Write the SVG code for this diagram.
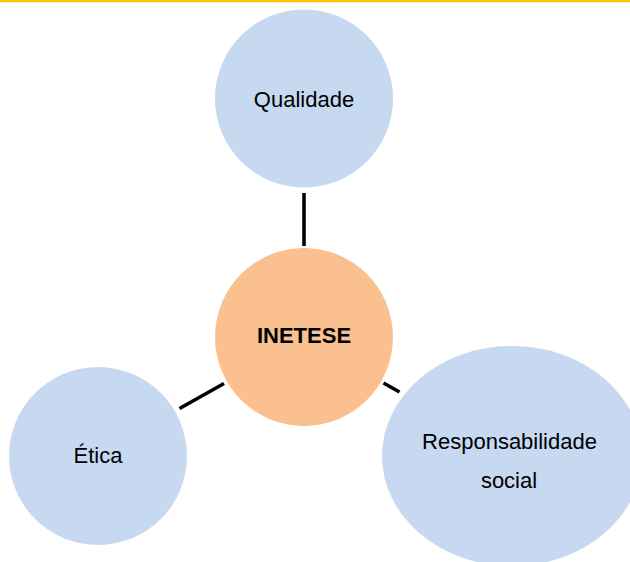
<svg xmlns="http://www.w3.org/2000/svg" width="630" height="562" viewBox="0 0 630 562">
<style>
.sat{fill:#C6D9F1}
.hub{fill:#FAC090}
.lbl{font-family:"Liberation Sans",Arial,sans-serif;font-size:22px;fill:#000;text-anchor:middle}
.b{font-weight:bold}
.con{stroke:#000;stroke-width:3.6;fill:none}
</style>
<rect x="0" y="0" width="630" height="562" fill="#fff"/>
<rect x="0" y="0" width="630" height="2.2" fill="#FFC000"/>
<g id="connectors">
<line class="con" x1="304" y1="193" x2="304" y2="246"/>
<line class="con" x1="179.5" y1="408.5" x2="224" y2="383.5"/>
<line class="con" x1="383.5" y1="383" x2="399.5" y2="392"/>
</g>
<g id="qualidade">
<circle class="sat" cx="304" cy="98.5" r="89"/>
<text class="lbl" x="304" y="107">Qualidade</text>
</g>
<g id="inetese">
<circle class="hub" cx="304" cy="337" r="89"/>
<text class="lbl b" x="304" y="343">INETESE</text>
</g>
<g id="etica">
<circle class="sat" cx="98" cy="456" r="89"/>
<text class="lbl" x="98" y="463">Ética</text>
</g>
<g id="responsabilidade">
<ellipse class="sat" cx="512" cy="456" rx="130" ry="110"/>
<text class="lbl" x="509.5" y="449">Responsabilidade</text>
<text class="lbl" x="509" y="488">social</text>
</g>
</svg>
